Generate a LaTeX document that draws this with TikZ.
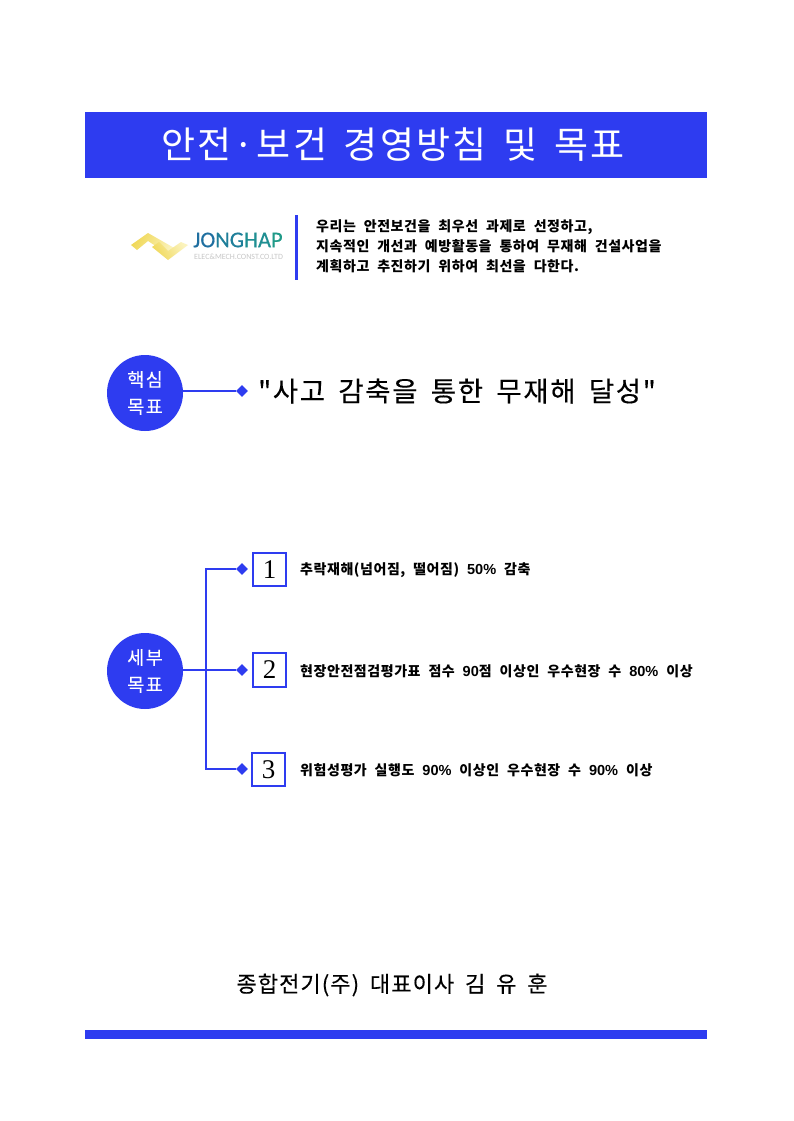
\documentclass[tikz,border=0pt]{standalone}
\usepackage{fontspec}
\newfontfamily\bodyf{Noto Sans CJK KR}[LetterSpace=4,WordSpace=2.1]
\newfontfamily\bodylat{Liberation Sans}[Scale=1.04]
\newfontfamily\titlef{Noto Sans CJK KR}[LetterSpace=6,WordSpace=1.6]
\newfontfamily\coref{Noto Sans CJK KR}[LetterSpace=6,WordSpace=1.7,FakeBold=0.3]
\newfontfamily\signf{Noto Sans CJK KR}[LetterSpace=5,WordSpace=1.8,FakeBold=0.3]
\newfontfamily\circf{Noto Sans CJK KR}[LetterSpace=8,FakeBold=0.3]
\newfontfamily\serifnum{Liberation Serif}
\newfontfamily\logofont{Carlito}[FakeBold=0.4]
\newfontfamily\logosubfont{Carlito}
\usetikzlibrary{shapes.geometric}
\definecolor{mainblue}{HTML}{2E3CF0}
\definecolor{logoa}{HTML}{1F6FA0}
\definecolor{logob}{HTML}{1F7F9A}
\definecolor{logoc}{HTML}{1F8F92}
\definecolor{logod}{HTML}{1F9A88}
\definecolor{goldlight}{HTML}{FBF3BE}
\definecolor{golddark}{HTML}{F0D858}
\newcommand{\lat}[1]{{\bodylat\bfseries #1}}
\tikzset{
  x=1pt,y=-1pt,
  band/.style={fill=mainblue,draw=none},
  goalcircle/.style={circle,fill=mainblue,draw=none,minimum size=76pt,inner sep=0pt,text=white,align=center,font=\circf\fontsize{18.5}{27}\selectfont},
  conn/.style={draw=mainblue,line width=1.6pt},
  tip/.style={diamond,fill=mainblue,draw=none,minimum width=12pt,minimum height=12pt,inner sep=0pt},
  numbox/.style={draw=mainblue,line width=1.8pt,fill=white,minimum width=33.5pt,minimum height=33.5pt,inner sep=0pt,font=\serifnum\fontsize{27}{27}\selectfont},
  goaltext/.style={anchor=west,inner sep=0pt,font=\bodyf\fontsize{14}{15}\bfseries\selectfont},
  txt/.style={inner sep=0pt}
}
\begin{document}
\begin{tikzpicture}
\useasboundingbox (0,0) rectangle (793,1121);
\fill[white] (0,0) rectangle (793,1121);
% bands
\fill[band] (85,112) rectangle (707,178);
\node[txt,text=white,font=\titlef\fontsize{37}{40}\selectfont] (title) at (393,144.5) {안전·보건 경영방침 및 목표};
\fill[band] (85,1030) rectangle (707,1039);
% logo
\shade[left color=golddark,right color=goldlight,shading angle=60] (131,245) -- (148,233) -- (176,249) -- (168,254) -- (148,241) -- (137,250) -- cycle;
\shade[left color=goldlight,right color=golddark,shading angle=-60] (152,247) -- (159,242) -- (168,251) -- (181,242) -- (188,245) -- (168,260) -- cycle;
\node[txt,anchor=west,font=\logofont\fontsize{22.5}{22}\selectfont] (logo) at (193,240) {\textcolor{logoa}{JO}\textcolor{logob}{NG}\textcolor{logoc}{HA}\textcolor{logod}{P}};
\node[txt,anchor=west,text=black!22,font=\logosubfont\fontsize{8}{8}\selectfont] (logosub) at (194,257) {ELEC\&MECH.CONST.CO.LTD};
\fill[mainblue] (295,215) rectangle (297.5,279.5);
% statement
\node[goaltext] (s1) at (316,227) {우리는 안전보건을 최우선 과제로 선정하고,};
\node[goaltext] (s2) at (316,246) {지속적인 개선과 예방활동을 통하여 무재해 건설사업을};
\node[goaltext] (s3) at (316,266) {계획하고 추진하기 위하여 최선을 다한다.};
% core goal
\node[goalcircle] (core) at (145,393) {핵심\\목표};
\node[tip] (coretip) at (242,391) {};
\draw[conn] (core.east |- coretip) -- (coretip);
\node[txt,anchor=west,font=\coref\fontsize{27.5}{30}\selectfont] (coretext) at (258,391) {"사고 감축을 통한 무재해 달성"};
% detail goals
\node[goalcircle] (detail) at (145,671) {세부\\목표};
\node[tip] (t1) at (242,569) {};
\node[tip] (t2) at (242,670) {};
\node[tip] (t3) at (242,769) {};
\node[numbox] (n1) at (269.5,569.5) {1};
\node[numbox] (n2) at (269.5,670) {2};
\node[numbox] (n3) at (268.5,769.5) {3};
\coordinate (trunk) at (206,670);
\draw[conn] (detail.east |- t2) -- (t2);
\draw[conn] (t1) -| (trunk) |- (t3);
\node[goaltext] (g1) at (300,570) {추락재해(넘어짐, 떨어짐) \lat{50\%} 감축};
\node[goaltext] (g2) at (300,671) {현장안전점검평가표 점수 \lat{90}점 이상인 우수현장 수 \lat{80\%} 이상};
\node[goaltext] (g3) at (300,770) {위험성평가 실행도 \lat{90\%} 이상인 우수현장 수 \lat{90\%} 이상};
% signature
\node[txt,font=\signf\fontsize{22}{24}\selectfont] (sign) at (392,985) {종합전기(주) 대표이사 김 유 훈};
\end{tikzpicture}
\end{document}
